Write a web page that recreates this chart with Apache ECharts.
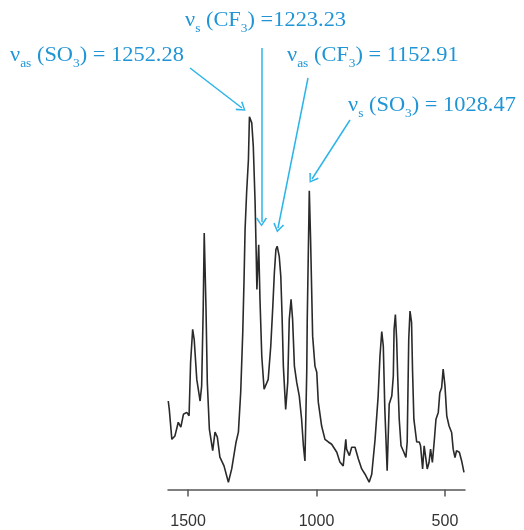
<!DOCTYPE html>
<html>
<head>
<meta charset="utf-8">
<script src="https://cdn.jsdelivr.net/npm/echarts@6/dist/echarts.min.js"></script>
<style>html,body{margin:0;padding:0;background:#fff;}#c{width:524px;height:530px;}</style>
</head>
<body>
<div id="c"></div>
<script>
// Wavenumber (cm-1) and absorbance (arbitrary units)
var wavenumber = [1577,1573,1563,1551,1538,1528,1518,1505,1496,1490,
  1482,1476,1466,1453,1447,1441,1437,1430,1425,1417,
  1404,1395,1386,1376,1360,1343,1330,1313,1304,1295,
  1287,1282,1278,1272,1265,1261,1257,1252,1246,1239,
  1235,1232,1225,1220,1213,1204,1197,1188,1178,1170,
  1164,1158,1153,1145,1139,1134,1129,1120,1112,1106,
  1099,1093,1086,1077,1067,1058,1051,1045,1038,1036,
  1028,1023,1015,1006,999,993,980,967,954,941,
  935,921,909,896,886,883,872,863,850,837,
  824,811,795,785,772,760,753,746,740,734,
  725,717,707,701,698,693,688,684,678,671,
  660,652,647,641,636,630,626,621,610,600,
  595,587,581,574,569,562,556,549,542,535,
  526,520,513,507,500,493,484,474,468,461,
  455,444,435,426];
var absorbance = [23.3,21.1,13.2,14.1,17.7,16.4,19.8,20.3,19.4,33.5,
  42.2,39.5,29.0,23.3,27.3,47.4,67.6,47.4,28.2,15.9,
  10.2,15.1,13.8,8.5,6.2,1.9,5.4,12.5,15.1,25.6,
  41.4,55.3,68.5,78.2,86.9,98.2,98.2,96.6,90.4,75.6,
  63.2,52.7,64.5,50.1,35.1,26.4,25.9,29.0,37.8,48.3,
  57.1,63.2,64.1,61.4,56.2,45.7,32.5,21.1,28.2,44.8,
  50.1,44.8,32.5,28.2,24.6,18.5,11.5,7.5,30.9,44.8,
  78.7,65.8,40.4,32.5,30.9,23.0,16.7,13.2,12.5,11.9,
  11.5,9.8,7.2,6.2,13.2,10.6,8.9,11.1,11.1,8.0,
  5.4,4.0,1.9,4.0,13.2,24.6,35.1,41.6,37.8,21.1,
  4.9,22.5,24.6,29.9,42.2,46.1,39.5,29.9,18.5,11.5,
  9.8,8.4,12.5,39.5,47.0,44.0,30.9,18.5,12.5,12.5,
  11.5,5.4,11.5,11.1,5.4,7.1,10.6,7.1,12.5,18.5,
  20.3,25.5,26.8,31.7,27.3,19.4,16.7,15.0,10.6,8.4,
  10.2,9.8,7.5,4.5];
var tickValues = [1500, 1000, 500];
var annotationTexts = [
  '{n|ν}{s|as}{n| (SO}{s|3}{n|) = 1252.28}',
  '{n|ν}{s|s}{n| (CF}{s|3}{n|) =1223.23}',
  '{n|ν}{s|as}{n| (CF}{s|3}{n|) = 1152.91}',
  '{n|ν}{s|s}{n| (SO}{s|3}{n|) = 1028.47}'
];

var textColor = '#1f95d6';
var arrowColor = '#2db4ea';
var series = wavenumber.map(function (w, i) { return [w, absorbance[i]]; });

var labelPos = [[10, 58], [185, 23], [287, 58], [348, 108]];
var arrowPix = [
  [[190, 68], [242, 108]],
  [[261.5, 48], [261.5, 222]],
  [[308, 78], [278, 228]],
  [[350, 120], [312, 179]]
];

var rich = {
  n: { fontFamily: 'Liberation Serif', fontSize: 20, lineHeight: 22, verticalAlign: 'top', fill: textColor },
  s: { fontFamily: 'Liberation Serif', fontSize: 12, lineHeight: 12, padding: [12, 0, 0, 0], verticalAlign: 'top', fill: textColor }
};

var chart = echarts.init(document.getElementById('c'), null, { renderer: 'canvas' });
chart.setOption({
  animation: false,
  backgroundColor: '#ffffff',
  grid: { left: 168, right: 59, top: 110, bottom: 32, containLabel: false },
  xAxis: {
    type: 'value',
    inverse: true,
    min: 422,
    max: 1578,
    splitLine: { show: false },
    axisLine: { show: true, lineStyle: { color: '#555', width: 1.5 } },
    axisTick: { show: true, length: 7, customValues: tickValues, lineStyle: { color: '#555', width: 1.5 } },
    axisLabel: {
      customValues: tickValues, margin: 17, color: '#333', fontFamily: 'Liberation Sans', fontSize: 16,
      formatter: function (v) { return String(v); }
    }
  },
  yAxis: {
    type: 'value', min: -2, max: 100, show: false
  },
  graphic: annotationTexts.map(function (t, i) {
    return {
      type: 'text',
      x: labelPos[i][0],
      y: labelPos[i][1] - 1,
      scaleX: 1.12,
      silent: true,
      style: { text: t, rich: rich, fill: textColor, verticalAlign: 'middle', align: 'left', font: '20px "Liberation Serif"' }
    };
  }),
  series: [{
    type: 'line',
    data: series,
    showSymbol: false,
    symbol: 'none',
    silent: true,
    lineStyle: { color: '#2a2a2a', width: 1.6 },
    markLine: {
      silent: true,
      symbol: ['none', 'path://M5,0 L10,9 L8.8,10 L5,2.6 L1.2,10 L0,9 Z'],
      symbolSize: [11, 9],
      label: { show: false },
      emphasis: { disabled: true },
      lineStyle: { color: arrowColor, width: 1.5, type: 'solid' },
      data: arrowPix.map(function (a) {
        return [{ x: a[0][0], y: a[0][1] }, { x: a[1][0], y: a[1][1] }];
      })
    }
  }]
});
</script>
</body>
</html>
